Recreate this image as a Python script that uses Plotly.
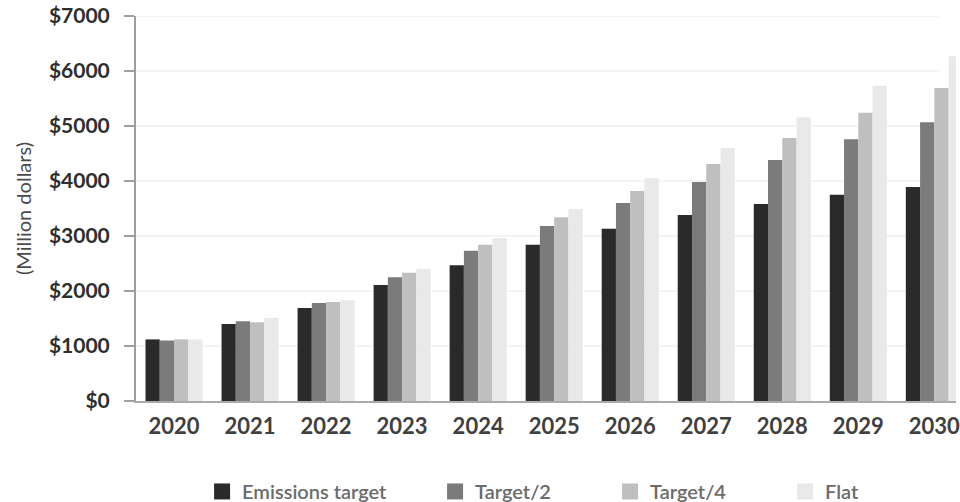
import plotly.graph_objects as go

# Annual cost by scenario (million dollars)
years = ["2020", "2021", "2022", "2023", "2024", "2025", "2026", "2027", "2028", "2029", "2030"]
emissions_target = [1120, 1400, 1690, 2110, 2470, 2840, 3130, 3380, 3580, 3750, 3890]
target_half = [1100, 1450, 1780, 2250, 2730, 3180, 3600, 3980, 4380, 4760, 5070]
target_quarter = [1120, 1430, 1800, 2330, 2840, 3340, 3820, 4310, 4780, 5240, 5690]
flat = [1120, 1510, 1830, 2400, 2960, 3490, 4050, 4600, 5160, 5730, 6270]

series_names = ["Emissions target", "Target/2", "Target/4", "Flat"]
series_values = [emissions_target, target_half, target_quarter, flat]
series_colors = ["#2a2a2a", "#7b7b7b", "#bfbfbf", "#e9e9e9"]
legend_widths = [188, 130, 130, 60]

y_ticks = [0, 1000, 2000, 3000, 4000, 5000, 6000, 7000]
y_ticktext = ["$" + str(v) for v in y_ticks]

fig = go.Figure()

for name, vals, col in zip(series_names, series_values, series_colors):
    fig.add_trace(go.Bar(
        x=years, y=vals, name=name, marker=dict(color=col, line=dict(width=0)),
        showlegend=False, hoverinfo="x+y+name",
    ))

# legend entries with larger square swatches
for name, col, lw in zip(series_names, series_colors, legend_widths):
    fig.add_trace(go.Scatter(
        x=[None], y=[None], mode="markers", name=name,
        marker=dict(symbol="square", size=16, color=col),
        legendwidth=lw,
    ))

# horizontal gridlines stopping short of the right edge
grid_end = (943 - 136) / 824
for v in y_ticks[1:]:
    fig.add_shape(type="line", xref="paper", yref="y", x0=0, x1=grid_end, y0=v, y1=v,
                  line=dict(color="#e8e8e8", width=1), layer="below")

fig.update_layout(
    width=960, height=502,
    margin=dict(l=136, r=0, t=16, b=101),
    paper_bgcolor="white", plot_bgcolor="white",
    barmode="group", bargap=0.25, bargroupgap=0,
    showlegend=True,
    legend=dict(
        orientation="h", xref="container", yref="container",
        x=0.2105, xanchor="left", y=0.021, yanchor="middle",
        font=dict(family="Lato", size=20, color="#6b6b6b", weight=600),
        traceorder="normal",
    ),
    xaxis=dict(
        type="category", range=[-0.5, 10.285],
        showline=True, linecolor="#aaaaaa", linewidth=2,
        ticks="", showgrid=False, zeroline=False,
        ticklabelstandoff=5,
        tickfont=dict(family="Lato", size=22, color="#404040", weight=700),
    ),
    yaxis=dict(
        range=[0, 7000], tickvals=y_ticks, ticktext=y_ticktext,
        showline=True, linecolor="#9e9e9e", linewidth=2,
        ticks="outside", ticklen=10, tickwidth=2, tickcolor="#9e9e9e",
        ticklabelstandoff=10,
        showgrid=False, zeroline=False,
        tickfont=dict(family="Lato", size=21, color="#2e2e2e", weight=700),
        title=dict(text="(Million dollars)", standoff=12,
                   font=dict(family="Lato", size=20, color="#4a4a4a")),
    ),
)

fig.write_html("out.html", config={"displayModeBar": False})
